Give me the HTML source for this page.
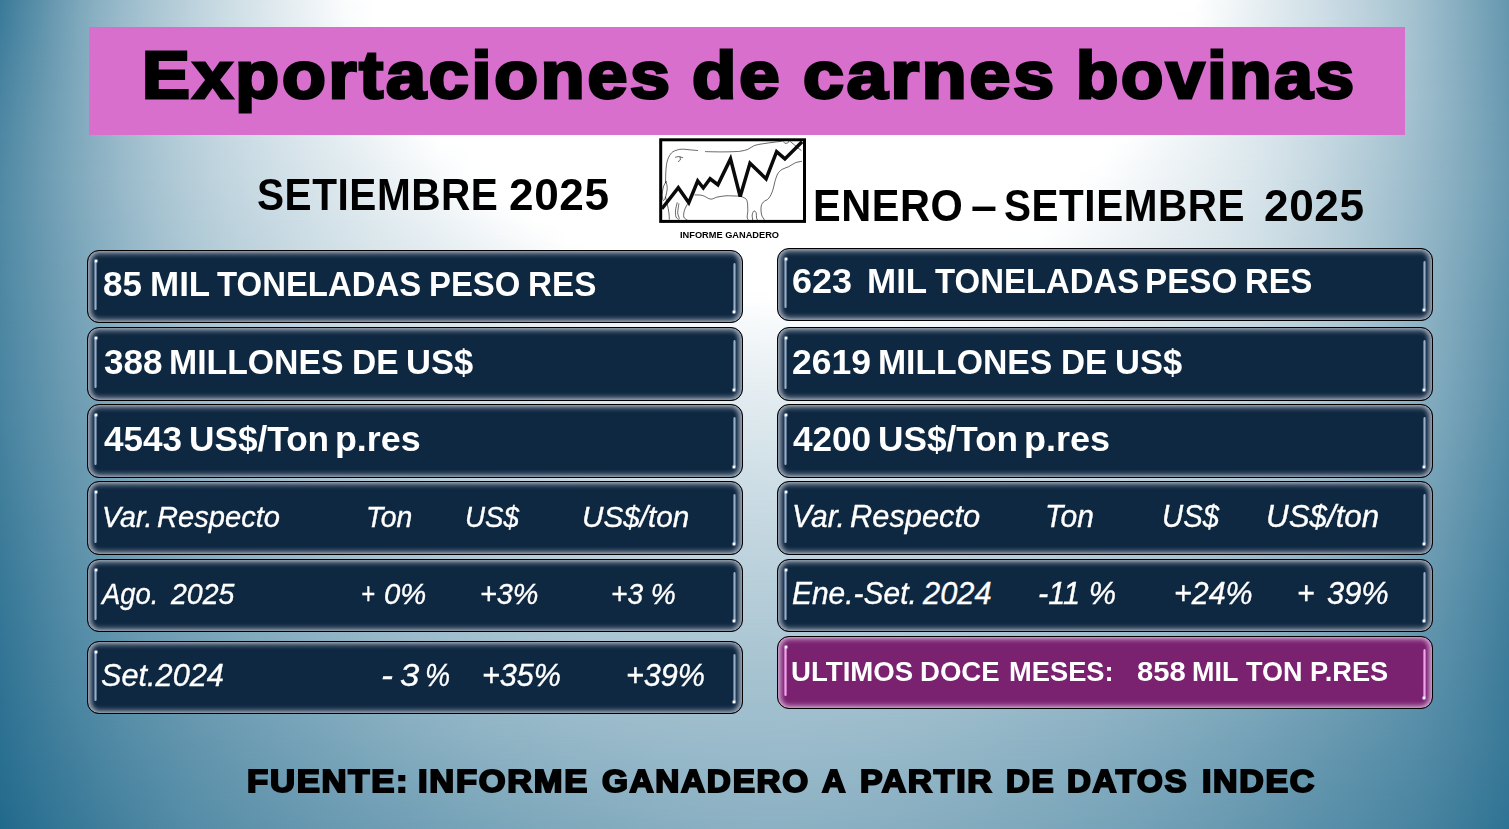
<!DOCTYPE html>
<html lang="es">
<head>
<meta charset="utf-8">
<title>Exportaciones de carnes bovinas</title>
<style>
html,body{margin:0;padding:0;}
body{
  width:1509px;height:829px;overflow:hidden;position:relative;
  font-family:"Liberation Sans",sans-serif;
  background:#7fa8bc;
}
#bg{position:absolute;left:0;top:0;width:1509px;height:829px;overflow:hidden;}
#bg i{display:block;width:1509px;height:20px;}
#bg b{display:block;width:100%;height:100%;-webkit-mask-image:linear-gradient(to bottom,rgba(0,0,0,0),#000);mask-image:linear-gradient(to bottom,rgba(0,0,0,0),#000);}
.abs{position:absolute;white-space:pre;line-height:1;}
#titlebar{position:absolute;left:89px;top:27px;width:1316px;height:108px;background:#d86fcd;}
.ttl{font-weight:bold;font-size:71px;color:#000;
  -webkit-text-stroke:3px #000;letter-spacing:2.6px;transform-origin:0 0;transform:scaleX(1.2);}
.sub{font-weight:bold;font-size:43px;color:#000;letter-spacing:0.6px;transform-origin:0 0;}
#logocap{left:681px;top:230px;font-size:8px;font-weight:bold;color:#000;transform-origin:0 0;}
.box{position:absolute;box-sizing:border-box;width:655.8px;border:1.05px solid #000;border-radius:12px;
  background:#0f2841;box-shadow:inset 0 0 1.2px 1.3px rgba(150,158,170,.55),inset 0 0 5px 2.6px rgb(150,160,176),inset 6px 0 4px -3px rgba(120,142,170,.55),inset -6px 0 4px -3px rgba(120,142,170,.55);}
.box.l{left:87.1px;}
.box.r{left:777.1px;}
.box.p{background:#7a2170;box-shadow:inset 0 0 1.2px 1.3px rgba(200,160,198,.55),inset 0 0 5px 2.6px rgb(196,150,194),inset 6px 0 4px -3px rgba(200,140,196,.5),inset -6px 0 4px -3px rgba(200,140,196,.5);}
.box i{position:absolute;width:3px;border-radius:1.5px;
  background:linear-gradient(90deg,rgba(159,180,208,.35),rgba(163,184,212,.92) 50%,rgba(159,180,208,.35));}
.box i.hl{left:6.1px;top:9.6px;bottom:11.5px;}
.box i.hr{right:6.1px;top:12px;bottom:9.6px;}
.box i::before{content:"";position:absolute;left:-1.5px;width:6px;height:6px;border-radius:50%;
  background:radial-gradient(circle,#fff 0,#fff 18%,rgba(225,238,255,.5) 36%,rgba(225,238,255,0) 62%);}
.box i.hl::before{top:-2.4px;}
.box i.hr::before{bottom:-2.4px;}
.box.p i{background:linear-gradient(90deg,rgba(240,160,236,.45),rgba(240,163,236,1) 50%,rgba(240,160,236,.45));}
.b{font-weight:bold;font-size:33px;color:#fff;transform-origin:0 0;}
.it{font-style:italic;font-size:29px;color:#fff;-webkit-text-stroke:0.35px #fff;transform-origin:0 0;}
.ft{font-weight:bold;font-size:35px;color:#000;-webkit-text-stroke:2px #000;
  letter-spacing:1.6px;transform-origin:0 0;}
</style>
</head>
<body>
<!--BG-->
<div id="bg">
<i style="background:linear-gradient(90deg,#3a7a98,#558ca6,#709eb5,#88afc1,#9bbccb,#acc7d4,#bbd1dc,#c9dbe3,#d6e4ea,#e3ecf0,#eff4f7,#fbfcfd,#fff,#fff,#fff,#fff,#fff,#fff,#fff,#fff,#fff,#fff,#fff,#fff,#fff,#fff,#fff,#fff,#fff,#fff,#fff,#fff,#fff,#fff,#fff,#fff,#fff,#fff,#fff,#f4f8f9,#e8eff3,#dbe7ec,#cfdee6,#c1d5df,#b3ccd8,#a3c1cf,#90b4c5,#7aa6ba,#6597af)"><b style="background:linear-gradient(90deg,#3c7c9a,#578ea8,#72a0b6,#8ab0c2,#9cbccc,#acc7d4,#bbd1dc,#c9dbe3,#d6e3ea,#e2ebf0,#edf3f6,#f9fbfc,#fff,#fff,#fff,#fff,#fff,#fff,#fff,#fff,#fff,#fff,#fff,#fff,#fff,#fff,#fff,#fff,#fff,#fff,#fff,#fff,#fff,#fff,#fff,#fff,#fff,#fff,#fefefe,#f2f6f8,#e6eef2,#dae6ec,#cedee6,#c1d5df,#b3ccd8,#a3c1cf,#90b4c5,#7ba6ba,#6597af)"></b></i>
<i style="background:linear-gradient(90deg,#3c7c9a,#578ea8,#72a0b6,#8ab0c2,#9cbccc,#acc7d4,#bbd1dc,#c9dbe3,#d6e3ea,#e2ebf0,#edf3f6,#f9fbfc,#fff,#fff,#fff,#fff,#fff,#fff,#fff,#fff,#fff,#fff,#fff,#fff,#fff,#fff,#fff,#fff,#fff,#fff,#fff,#fff,#fff,#fff,#fff,#fff,#fff,#fff,#fefefe,#f2f6f8,#e6eef2,#dae6ec,#cedee6,#c1d5df,#b3ccd8,#a3c1cf,#90b4c5,#7ba6ba,#6597af)"><b style="background:linear-gradient(90deg,#407e9c,#598fa9,#73a1b6,#8ab0c2,#9dbdcc,#adc8d4,#bbd1dc,#c9dae3,#d5e2e9,#e0eaef,#ebf2f5,#f6f9fa,#fff,#fff,#fff,#fff,#fff,#fff,#fff,#fff,#fff,#fff,#fff,#fff,#fff,#fff,#fff,#fff,#fff,#fff,#fff,#fff,#fff,#fff,#fff,#fff,#fff,#fff,#fbfdfd,#f0f5f7,#e5edf1,#d9e6eb,#cddde5,#c1d5df,#b3ccd7,#a3c1cf,#90b4c5,#7ba6ba,#6698af)"></b></i>
<i style="background:linear-gradient(90deg,#407e9c,#598fa9,#73a1b6,#8ab0c2,#9dbdcc,#adc8d4,#bbd1dc,#c9dae3,#d5e2e9,#e0eaef,#ebf2f5,#f6f9fa,#fff,#fff,#fff,#fff,#fff,#fff,#fff,#fff,#fff,#fff,#fff,#fff,#fff,#fff,#fff,#fff,#fff,#fff,#fff,#fff,#fff,#fff,#fff,#fff,#fff,#fff,#fbfdfd,#f0f5f7,#e5edf1,#d9e6eb,#cddde5,#c1d5df,#b3ccd7,#a3c1cf,#90b4c5,#7ba6ba,#6698af)"><b style="background:linear-gradient(90deg,#44809e,#5c91aa,#74a1b7,#8ab0c2,#9dbdcc,#adc8d4,#bbd1dc,#c8dae2,#d3e2e8,#dee9ee,#e9f0f4,#f4f7f9,#fefeff,#fff,#fff,#fff,#fff,#fff,#fff,#fff,#fff,#fff,#fff,#fff,#fff,#fff,#fff,#fff,#fff,#fff,#fff,#fff,#fff,#fff,#fff,#fff,#fff,#fff,#f9fbfc,#eef4f6,#e3ecf1,#d8e5eb,#ccdde5,#c0d4de,#b2cbd7,#a3c1cf,#90b4c5,#7ba6bb,#6698b0)"></b></i>
<i style="background:linear-gradient(90deg,#44809e,#5c91aa,#74a1b7,#8ab0c2,#9dbdcc,#adc8d4,#bbd1dc,#c8dae2,#d3e2e8,#dee9ee,#e9f0f4,#f4f7f9,#fefeff,#fff,#fff,#fff,#fff,#fff,#fff,#fff,#fff,#fff,#fff,#fff,#fff,#fff,#fff,#fff,#fff,#fff,#fff,#fff,#fff,#fff,#fff,#fff,#fff,#fff,#f9fbfc,#eef4f6,#e3ecf1,#d8e5eb,#ccdde5,#c0d4de,#b2cbd7,#a3c1cf,#90b4c5,#7ba6bb,#6698b0)"><b style="background:linear-gradient(90deg,#47839f,#5e92ab,#75a2b7,#8bb0c2,#9dbdcc,#adc7d4,#bad1db,#c7d9e2,#d2e1e8,#dce8ed,#e7eef2,#f1f5f7,#fbfcfd,#fff,#fff,#fff,#fff,#fff,#fff,#fff,#fff,#fff,#fff,#fff,#fff,#fff,#fff,#fff,#fff,#fff,#fff,#fff,#fff,#fff,#fff,#fff,#fff,#fff,#f6f9fa,#ecf2f5,#e2ebf0,#d7e4ea,#cbdce4,#bfd4de,#b2cbd7,#a2c0cf,#90b4c5,#7ca6bb,#6798b0)"></b></i>
<i style="background:linear-gradient(90deg,#47839f,#5e92ab,#75a2b7,#8bb0c2,#9dbdcc,#adc7d4,#bad1db,#c7d9e2,#d2e1e8,#dce8ed,#e7eef2,#f1f5f7,#fbfcfd,#fff,#fff,#fff,#fff,#fff,#fff,#fff,#fff,#fff,#fff,#fff,#fff,#fff,#fff,#fff,#fff,#fff,#fff,#fff,#fff,#fff,#fff,#fff,#fff,#fff,#f6f9fa,#ecf2f5,#e2ebf0,#d7e4ea,#cbdce4,#bfd4de,#b2cbd7,#a2c0cf,#90b4c5,#7ca6bb,#6798b0)"><b style="background:linear-gradient(90deg,#4984a1,#6094ac,#76a3b8,#8bb0c2,#9dbdcc,#acc7d4,#bad0db,#c6d8e1,#d0dfe7,#dae6ec,#e4edf1,#edf3f6,#f7fafb,#fff,#fff,#fff,#fff,#fff,#fff,#fff,#fff,#fff,#fff,#fff,#fff,#fff,#fff,#fff,#fff,#fff,#fff,#fff,#fff,#fff,#fff,#fff,#fff,#fcfdfd,#f3f7f9,#e9f0f4,#e0eaef,#d5e3e9,#cadbe3,#bed3dd,#b0cad6,#a2c0ce,#90b4c5,#7ca6bb,#6799b0)"></b></i>
<i style="background:linear-gradient(90deg,#4984a1,#6094ac,#76a3b8,#8bb0c2,#9dbdcc,#acc7d4,#bad0db,#c6d8e1,#d0dfe7,#dae6ec,#e4edf1,#edf3f6,#f7fafb,#fff,#fff,#fff,#fff,#fff,#fff,#fff,#fff,#fff,#fff,#fff,#fff,#fff,#fff,#fff,#fff,#fff,#fff,#fff,#fff,#fff,#fff,#fff,#fff,#fcfdfd,#f3f7f9,#e9f0f4,#e0eaef,#d5e3e9,#cadbe3,#bed3dd,#b0cad6,#a2c0ce,#90b4c5,#7ca6bb,#6799b0)"><b style="background:linear-gradient(90deg,#4c86a2,#6295ad,#77a3b8,#8bb0c3,#9cbccc,#abc7d4,#b9d0da,#c4d7e0,#cedee6,#d8e4eb,#e1ebef,#eaf1f4,#f3f7f9,#fcfdfe,#fff,#fff,#fff,#fff,#fff,#fff,#fff,#fff,#fff,#fff,#fff,#fff,#fff,#fff,#fff,#fff,#fff,#fff,#fff,#fff,#fff,#fff,#fff,#f8fafb,#f0f5f7,#e7eff3,#dee9ee,#d4e2e8,#c8dae3,#bcd2dc,#afc9d5,#a0bfce,#8fb4c5,#7ca7bb,#6899b0)"></b></i>
<i style="background:linear-gradient(90deg,#4c86a2,#6295ad,#77a3b8,#8bb0c3,#9cbccc,#abc7d4,#b9d0da,#c4d7e0,#cedee6,#d8e4eb,#e1ebef,#eaf1f4,#f3f7f9,#fcfdfe,#fff,#fff,#fff,#fff,#fff,#fff,#fff,#fff,#fff,#fff,#fff,#fff,#fff,#fff,#fff,#fff,#fff,#fff,#fff,#fff,#fff,#fff,#fff,#f8fafb,#f0f5f7,#e7eff3,#dee9ee,#d4e2e8,#c8dae3,#bcd2dc,#afc9d5,#a0bfce,#8fb4c5,#7ca7bb,#6899b0)"><b style="background:linear-gradient(90deg,#4d87a3,#6396ae,#77a4b9,#8bb0c2,#9cbccb,#abc6d3,#b7cfda,#c3d6e0,#ccdde5,#d5e3e9,#dee8ee,#e6eef2,#eff4f6,#f7fafb,#fff,#fff,#fff,#fff,#fff,#fff,#fff,#fff,#fff,#fff,#fff,#fff,#fff,#fff,#fff,#fff,#fff,#fff,#fff,#fff,#fff,#fff,#fdfdfe,#f4f8f9,#edf3f5,#e5edf1,#dce7ed,#d2e0e7,#c6d9e2,#bad1db,#adc8d5,#9fbecd,#8eb3c4,#7ca6bb,#6899b1)"></b></i>
<i style="background:linear-gradient(90deg,#4d87a3,#6396ae,#77a4b9,#8bb0c2,#9cbccb,#abc6d3,#b7cfda,#c3d6e0,#ccdde5,#d5e3e9,#dee8ee,#e6eef2,#eff4f6,#f7fafb,#fff,#fff,#fff,#fff,#fff,#fff,#fff,#fff,#fff,#fff,#fff,#fff,#fff,#fff,#fff,#fff,#fff,#fff,#fff,#fff,#fff,#fff,#fdfdfe,#f4f8f9,#edf3f5,#e5edf1,#dce7ed,#d2e0e7,#c6d9e2,#bad1db,#adc8d5,#9fbecd,#8eb3c4,#7ca6bb,#6899b1)"><b style="background:linear-gradient(90deg,#4f88a3,#6496ae,#78a4b9,#8ab0c2,#9bbbcb,#a9c5d3,#b6ced9,#c1d5df,#cadbe4,#d3e1e8,#dbe6ec,#e2ecf0,#ebf1f4,#f3f7f9,#fbfcfd,#fff,#fff,#fff,#fff,#fff,#fff,#fff,#fff,#fff,#fff,#fff,#fff,#fff,#fff,#fff,#fff,#fff,#fff,#fff,#fff,#fff,#f8fbfc,#f1f5f8,#eaf1f4,#e2ecf0,#dae6ec,#d0dfe6,#c5d8e1,#b8cfda,#acc7d4,#9dbdcc,#8db2c4,#7ba6bb,#6999b1)"></b></i>
<i style="background:linear-gradient(90deg,#4f88a3,#6496ae,#78a4b9,#8ab0c2,#9bbbcb,#a9c5d3,#b6ced9,#c1d5df,#cadbe4,#d3e1e8,#dbe6ec,#e2ecf0,#ebf1f4,#f3f7f9,#fbfcfd,#fff,#fff,#fff,#fff,#fff,#fff,#fff,#fff,#fff,#fff,#fff,#fff,#fff,#fff,#fff,#fff,#fff,#fff,#fff,#fff,#fff,#f8fbfc,#f1f5f8,#eaf1f4,#e2ecf0,#dae6ec,#d0dfe6,#c5d8e1,#b8cfda,#acc7d4,#9dbdcc,#8db2c4,#7ba6bb,#6999b1)"><b style="background:linear-gradient(90deg,#5089a4,#6496ae,#78a4b9,#8ab0c2,#9abbca,#a8c4d2,#b5cdd8,#bfd4de,#c8dae2,#d0dfe7,#d8e4ea,#dfe9ee,#e7eff2,#eef4f6,#f6f9fa,#feffff,#fff,#fff,#fff,#fff,#fff,#fff,#fff,#fff,#fff,#fff,#fff,#fff,#fff,#fff,#fff,#fff,#fff,#fff,#fff,#fdfdfe,#f5f8fa,#eef3f6,#e7eff2,#e0eaef,#d8e5eb,#cedee5,#c3d6e0,#b6ced9,#aac5d3,#9cbccb,#8cb2c3,#7ba6ba,#6899b1)"></b></i>
<i style="background:linear-gradient(90deg,#5089a4,#6496ae,#78a4b9,#8ab0c2,#9abbca,#a8c4d2,#b5cdd8,#bfd4de,#c8dae2,#d0dfe7,#d8e4ea,#dfe9ee,#e7eff2,#eef4f6,#f6f9fa,#feffff,#fff,#fff,#fff,#fff,#fff,#fff,#fff,#fff,#fff,#fff,#fff,#fff,#fff,#fff,#fff,#fff,#fff,#fff,#fff,#fdfdfe,#f5f8fa,#eef3f6,#e7eff2,#e0eaef,#d8e5eb,#cedee5,#c3d6e0,#b6ced9,#aac5d3,#9cbccb,#8cb2c3,#7ba6ba,#6899b1)"><b style="background:linear-gradient(90deg,#5089a4,#6496ae,#77a3b8,#89afc1,#98baca,#a6c3d1,#b3cbd7,#bdd2dd,#c6d8e1,#cddde5,#d4e2e9,#dce7ed,#e3ecf0,#eaf1f4,#f1f6f8,#f8fbfc,#fff,#fff,#fff,#fff,#fff,#fff,#fff,#fff,#fff,#fff,#fff,#fff,#fff,#fff,#fff,#fff,#fff,#fff,#fff,#f9fbfc,#f1f6f8,#ebf1f4,#e4edf1,#dee9ee,#d6e3ea,#ccdce4,#c1d5df,#b5cdd8,#a8c4d2,#9abbcb,#8bb1c3,#7aa5ba,#6798b0)"></b></i>
<i style="background:linear-gradient(90deg,#5089a4,#6496ae,#77a3b8,#89afc1,#98baca,#a6c3d1,#b3cbd7,#bdd2dd,#c6d8e1,#cddde5,#d4e2e9,#dce7ed,#e3ecf0,#eaf1f4,#f1f6f8,#f8fbfc,#fff,#fff,#fff,#fff,#fff,#fff,#fff,#fff,#fff,#fff,#fff,#fff,#fff,#fff,#fff,#fff,#fff,#fff,#fff,#f9fbfc,#f1f6f8,#ebf1f4,#e4edf1,#dee9ee,#d6e3ea,#ccdce4,#c1d5df,#b5cdd8,#a8c4d2,#9abbcb,#8bb1c3,#7aa5ba,#6798b0)"><b style="background:linear-gradient(90deg,#5089a4,#6396ae,#76a2b8,#87aec1,#96b8c9,#a4c2d0,#b0cad6,#bad1db,#c3d6e0,#cadbe4,#d1e0e7,#d8e5eb,#dfe9ee,#e6eef2,#ecf2f5,#f3f7f9,#fafbfc,#fff,#fff,#fff,#fff,#fff,#fff,#fff,#fff,#fff,#fff,#fff,#fff,#fff,#fff,#fff,#fff,#fff,#fcfdfe,#f5f8fa,#eef3f6,#e8eff3,#e1ebf0,#dbe7ec,#d3e1e8,#cadbe3,#bfd4de,#b3ccd8,#a7c3d1,#99baca,#8ab0c2,#78a4b9,#6698af)"></b></i>
<i style="background:linear-gradient(90deg,#5089a4,#6396ae,#76a2b8,#87aec1,#96b8c9,#a4c2d0,#b0cad6,#bad1db,#c3d6e0,#cadbe4,#d1e0e7,#d8e5eb,#dfe9ee,#e6eef2,#ecf2f5,#f3f7f9,#fafbfc,#fff,#fff,#fff,#fff,#fff,#fff,#fff,#fff,#fff,#fff,#fff,#fff,#fff,#fff,#fff,#fff,#fff,#fcfdfe,#f5f8fa,#eef3f6,#e8eff3,#e1ebf0,#dbe7ec,#d3e1e8,#cadbe3,#bfd4de,#b3ccd8,#a7c3d1,#99baca,#8ab0c2,#78a4b9,#6698af)"><b style="background:linear-gradient(90deg,#4f89a4,#6295ae,#74a1b7,#85adc0,#94b7c8,#a2c0cf,#aec8d5,#b7cfda,#c0d4de,#c7d9e2,#cedee6,#d5e3e9,#dbe7ec,#e1ebf0,#e7eff3,#edf3f6,#f4f7f9,#fafbfc,#fff,#fff,#fff,#fff,#fff,#fff,#fff,#fff,#fff,#fff,#fff,#fff,#fff,#fff,#fff,#feffff,#f8fafb,#f1f6f8,#ebf1f4,#e5edf1,#dfe9ee,#d8e5eb,#d1e0e7,#c7d9e2,#bdd2dd,#b2cbd7,#a5c2d0,#97b9c9,#88afc1,#77a3b8,#6497af)"></b></i>
<i style="background:linear-gradient(90deg,#4f89a4,#6295ae,#74a1b7,#85adc0,#94b7c8,#a2c0cf,#aec8d5,#b7cfda,#c0d4de,#c7d9e2,#cedee6,#d5e3e9,#dbe7ec,#e1ebf0,#e7eff3,#edf3f6,#f4f7f9,#fafbfc,#fff,#fff,#fff,#fff,#fff,#fff,#fff,#fff,#fff,#fff,#fff,#fff,#fff,#fff,#fff,#feffff,#f8fafb,#f1f6f8,#ebf1f4,#e5edf1,#dfe9ee,#d8e5eb,#d1e0e7,#c7d9e2,#bdd2dd,#b2cbd7,#a5c2d0,#97b9c9,#88afc1,#77a3b8,#6497af)"><b style="background:linear-gradient(90deg,#4f88a3,#6194ad,#73a0b6,#83abbf,#92b6c6,#9fbecd,#abc6d3,#b5cdd8,#bdd2dd,#c4d7e0,#cbdce4,#d1e0e7,#d8e4ea,#dde8ed,#e3ecf0,#e8f0f3,#eef3f6,#f3f7f9,#f9fbfc,#fff,#fff,#fff,#fff,#fff,#fff,#fff,#fff,#fff,#fff,#fff,#fff,#fff,#fff,#f9fbfc,#f3f7f9,#edf3f6,#e7eff3,#e2ebf0,#dce7ed,#d5e3e9,#cedee5,#c5d8e1,#bbd1dc,#b0cad6,#a4c1d0,#96b8c8,#86adc0,#75a2b7,#6396ae)"></b></i>
<i style="background:linear-gradient(90deg,#4f88a3,#6194ad,#73a0b6,#83abbf,#92b6c6,#9fbecd,#abc6d3,#b5cdd8,#bdd2dd,#c4d7e0,#cbdce4,#d1e0e7,#d8e4ea,#dde8ed,#e3ecf0,#e8f0f3,#eef3f6,#f3f7f9,#f9fbfc,#fff,#fff,#fff,#fff,#fff,#fff,#fff,#fff,#fff,#fff,#fff,#fff,#fff,#fff,#f9fbfc,#f3f7f9,#edf3f6,#e7eff3,#e2ebf0,#dce7ed,#d5e3e9,#cedee5,#c5d8e1,#bbd1dc,#b0cad6,#a4c1d0,#96b8c8,#86adc0,#75a2b7,#6396ae)"><b style="background:linear-gradient(90deg,#4e88a3,#6094ac,#719fb5,#81aabe,#90b4c5,#9dbdcc,#a8c4d2,#b2cbd7,#bad0db,#c1d5df,#c8dae2,#cedee6,#d4e2e9,#d9e6eb,#dee9ee,#e4ecf1,#e9f0f3,#eef3f6,#f3f7f9,#f8fafb,#fdfdfe,#fff,#fff,#fff,#fff,#fff,#fff,#fff,#fff,#fff,#fff,#fefefe,#f9fbfc,#f4f8f9,#eff4f7,#e9f0f4,#e4edf1,#dee9ee,#d9e5eb,#d2e1e8,#cbdce4,#c3d6e0,#b9d0db,#aec9d5,#a2c0cf,#94b7c8,#85acbf,#73a1b6,#6194ad)"></b></i>
<i style="background:linear-gradient(90deg,#4e88a3,#6094ac,#719fb5,#81aabe,#90b4c5,#9dbdcc,#a8c4d2,#b2cbd7,#bad0db,#c1d5df,#c8dae2,#cedee6,#d4e2e9,#d9e6eb,#dee9ee,#e4ecf1,#e9f0f3,#eef3f6,#f3f7f9,#f8fafb,#fdfdfe,#fff,#fff,#fff,#fff,#fff,#fff,#fff,#fff,#fff,#fff,#fefefe,#f9fbfc,#f4f8f9,#eff4f7,#e9f0f4,#e4edf1,#dee9ee,#d9e5eb,#d2e1e8,#cbdce4,#c3d6e0,#b9d0db,#aec9d5,#a2c0cf,#94b7c8,#85acbf,#73a1b6,#6194ad)"><b style="background:linear-gradient(90deg,#4d87a2,#5f93ac,#709eb4,#7fa9bd,#8eb2c4,#9abbcb,#a5c2d0,#afc9d5,#b7ceda,#bed3dd,#c5d8e1,#cbdce4,#d0dfe7,#d5e3e9,#dae6ec,#dfe9ee,#e4edf1,#e8f0f3,#edf3f6,#f2f6f8,#f6f9fa,#f9fbfc,#fcfdfd,#fdfefe,#fefefe,#fff,#fff,#fff,#fff,#fefefe,#fbfcfd,#f8fafb,#f4f7f9,#eff4f7,#eaf1f4,#e5eef2,#e0eaef,#dbe7ec,#d6e3e9,#cfdfe6,#c8dae3,#c0d5de,#b7ceda,#acc7d4,#a0bfce,#93b6c7,#83abbf,#719fb5,#5f93ac)"></b></i>
<i style="background:linear-gradient(90deg,#4d87a2,#5f93ac,#709eb4,#7fa9bd,#8eb2c4,#9abbcb,#a5c2d0,#afc9d5,#b7ceda,#bed3dd,#c5d8e1,#cbdce4,#d0dfe7,#d5e3e9,#dae6ec,#dfe9ee,#e4edf1,#e8f0f3,#edf3f6,#f2f6f8,#f6f9fa,#f9fbfc,#fcfdfd,#fdfefe,#fefefe,#fff,#fff,#fff,#fff,#fefefe,#fbfcfd,#f8fafb,#f4f7f9,#eff4f7,#eaf1f4,#e5eef2,#e0eaef,#dbe7ec,#d6e3e9,#cfdfe6,#c8dae3,#c0d5de,#b7ceda,#acc7d4,#a0bfce,#93b6c7,#83abbf,#719fb5,#5f93ac)"><b style="background:linear-gradient(90deg,#4c86a2,#5d92ab,#6e9db4,#7da8bc,#8bb1c3,#98b9c9,#a3c1cf,#acc7d4,#b4ccd8,#bbd1dc,#c2d6df,#c7d9e2,#cddde5,#d2e0e7,#d6e3ea,#dbe6ec,#dfe9ee,#e3ecf1,#e8eff3,#ecf2f5,#f0f5f7,#f3f7f9,#f5f8fa,#f6f9fb,#f7fafb,#f8fbfc,#f9fbfc,#f9fbfc,#f9fbfc,#f7fafb,#f5f8fa,#f2f6f8,#eff4f6,#ebf1f4,#e6eef2,#e1ebf0,#dde8ed,#d8e5eb,#d2e1e8,#ccdde5,#c6d8e1,#bed3dd,#b5cdd8,#abc6d3,#9fbecd,#91b5c6,#81aabe,#709eb5,#5e92ab)"></b></i>
<i style="background:linear-gradient(90deg,#4c86a2,#5d92ab,#6e9db4,#7da8bc,#8bb1c3,#98b9c9,#a3c1cf,#acc7d4,#b4ccd8,#bbd1dc,#c2d6df,#c7d9e2,#cddde5,#d2e0e7,#d6e3ea,#dbe6ec,#dfe9ee,#e3ecf1,#e8eff3,#ecf2f5,#f0f5f7,#f3f7f9,#f5f8fa,#f6f9fb,#f7fafb,#f8fbfc,#f9fbfc,#f9fbfc,#f9fbfc,#f7fafb,#f5f8fa,#f2f6f8,#eff4f6,#ebf1f4,#e6eef2,#e1ebf0,#dde8ed,#d8e5eb,#d2e1e8,#ccdde5,#c6d8e1,#bed3dd,#b5cdd8,#abc6d3,#9fbecd,#91b5c6,#81aabe,#709eb5,#5e92ab)"><b style="background:linear-gradient(90deg,#4b86a2,#5c91aa,#6c9cb3,#7ca6bb,#89afc2,#95b8c8,#a0bfce,#a9c5d2,#b1cad7,#b8cfda,#bed3dd,#c4d7e0,#c9dbe3,#cedee5,#d2e1e8,#d7e4ea,#dbe6ec,#dfe9ee,#e3ecf0,#e6eef2,#eaf1f4,#edf3f5,#eff4f7,#f0f5f7,#f2f6f8,#f2f7f8,#f3f7f9,#f3f7f9,#f3f7f9,#f1f6f8,#eff4f7,#edf3f6,#eaf1f4,#e6eef2,#e2ebf0,#dee8ee,#d9e5eb,#d4e2e9,#cfdfe6,#c9dbe3,#c3d6e0,#bbd1dc,#b3cbd7,#a8c5d2,#9dbdcc,#8fb4c5,#80a9bd,#6e9db4,#5c91aa)"></b></i>
<i style="background:linear-gradient(90deg,#4b86a2,#5c91aa,#6c9cb3,#7ca6bb,#89afc2,#95b8c8,#a0bfce,#a9c5d2,#b1cad7,#b8cfda,#bed3dd,#c4d7e0,#c9dbe3,#cedee5,#d2e1e8,#d7e4ea,#dbe6ec,#dfe9ee,#e3ecf0,#e6eef2,#eaf1f4,#edf3f5,#eff4f7,#f0f5f7,#f2f6f8,#f2f7f8,#f3f7f9,#f3f7f9,#f3f7f9,#f1f6f8,#eff4f7,#edf3f6,#eaf1f4,#e6eef2,#e2ebf0,#dee8ee,#d9e5eb,#d4e2e9,#cfdfe6,#c9dbe3,#c3d6e0,#bbd1dc,#b3cbd7,#a8c5d2,#9dbdcc,#8fb4c5,#80a9bd,#6e9db4,#5c91aa)"><b style="background:linear-gradient(90deg,#4a85a1,#5b90aa,#6b9bb2,#7aa5ba,#87aec1,#93b6c7,#9dbdcc,#a6c3d1,#aec8d5,#b5cdd9,#bbd1dc,#c1d5df,#c6d8e1,#cadbe4,#cfdee6,#d3e1e8,#d6e4ea,#dae6ec,#dee9ee,#e1ebf0,#e4edf1,#e7eff3,#e9f0f4,#ebf1f4,#ecf2f5,#edf3f6,#edf3f6,#edf3f6,#edf3f6,#ecf2f5,#eaf1f4,#e8eff3,#e5edf1,#e1ebf0,#dee8ee,#dae6ec,#d5e3e9,#d1e0e7,#ccdce4,#c6d9e1,#c0d4de,#b9cfda,#b0cad6,#a6c3d1,#9bbbcb,#8eb2c4,#7ea8bc,#6d9cb3,#5b90aa)"></b></i>
<i style="background:linear-gradient(90deg,#4a85a1,#5b90aa,#6b9bb2,#7aa5ba,#87aec1,#93b6c7,#9dbdcc,#a6c3d1,#aec8d5,#b5cdd9,#bbd1dc,#c1d5df,#c6d8e1,#cadbe4,#cfdee6,#d3e1e8,#d6e4ea,#dae6ec,#dee9ee,#e1ebf0,#e4edf1,#e7eff3,#e9f0f4,#ebf1f4,#ecf2f5,#edf3f6,#edf3f6,#edf3f6,#edf3f6,#ecf2f5,#eaf1f4,#e8eff3,#e5edf1,#e1ebf0,#dee8ee,#dae6ec,#d5e3e9,#d1e0e7,#ccdce4,#c6d9e1,#c0d4de,#b9cfda,#b0cad6,#a6c3d1,#9bbbcb,#8eb2c4,#7ea8bc,#6d9cb3,#5b90aa)"><b style="background:linear-gradient(90deg,#4984a1,#5a8fa9,#699ab1,#78a4b9,#85adbf,#90b4c5,#9bbbcb,#a3c1cf,#abc6d3,#b2cbd7,#b8cfda,#bdd3dd,#c2d6df,#c7d9e2,#cbdce4,#cfdee6,#d2e1e8,#d6e3ea,#d9e6eb,#dce8ed,#dfeaef,#e2ebf0,#e4edf1,#e6eef2,#e7eff2,#e8eff3,#e8eff3,#e8eff3,#e7eff3,#e6eef2,#e5edf1,#e2ecf0,#e0eaef,#dde8ed,#d9e6eb,#d6e3e9,#d2e0e7,#cddde5,#c8dae3,#c3d6e0,#bdd2dd,#b6cdd9,#adc8d5,#a4c1d0,#99baca,#8cb1c3,#7ca7bb,#6b9bb2,#598fa9)"></b></i>
<i style="background:linear-gradient(90deg,#4984a1,#5a8fa9,#699ab1,#78a4b9,#85adbf,#90b4c5,#9bbbcb,#a3c1cf,#abc6d3,#b2cbd7,#b8cfda,#bdd3dd,#c2d6df,#c7d9e2,#cbdce4,#cfdee6,#d2e1e8,#d6e3ea,#d9e6eb,#dce8ed,#dfeaef,#e2ebf0,#e4edf1,#e6eef2,#e7eff2,#e8eff3,#e8eff3,#e8eff3,#e7eff3,#e6eef2,#e5edf1,#e2ecf0,#e0eaef,#dde8ed,#d9e6eb,#d6e3e9,#d2e0e7,#cddde5,#c8dae3,#c3d6e0,#bdd2dd,#b6cdd9,#adc8d5,#a4c1d0,#99baca,#8cb1c3,#7ca7bb,#6b9bb2,#598fa9)"><b style="background:linear-gradient(90deg,#4883a0,#588ea8,#6899b0,#76a2b8,#83abbe,#8eb3c4,#98b9c9,#a1bfce,#a8c4d2,#afc9d5,#b5cdd8,#bad1db,#bfd4de,#c3d7e0,#c7d9e2,#cbdce4,#cfdee6,#d2e1e8,#d5e3e9,#d8e5eb,#dbe6ec,#dde8ed,#dfe9ee,#e1eaef,#e2ebf0,#e3ecf0,#e3ecf0,#e3ecf0,#e2ebf0,#e1ebef,#dfeaef,#dde8ee,#dbe7ec,#d8e5eb,#d5e3e9,#d2e0e7,#cedee5,#cadbe3,#c5d8e1,#c0d4de,#bad0db,#b3cbd7,#aac6d3,#a1c0ce,#96b8c9,#89b0c2,#7aa5ba,#699ab1,#578ea8)"></b></i>
<i style="background:linear-gradient(90deg,#4883a0,#588ea8,#6899b0,#76a2b8,#83abbe,#8eb3c4,#98b9c9,#a1bfce,#a8c4d2,#afc9d5,#b5cdd8,#bad1db,#bfd4de,#c3d7e0,#c7d9e2,#cbdce4,#cfdee6,#d2e1e8,#d5e3e9,#d8e5eb,#dbe6ec,#dde8ed,#dfe9ee,#e1eaef,#e2ebf0,#e3ecf0,#e3ecf0,#e3ecf0,#e2ebf0,#e1ebef,#dfeaef,#dde8ee,#dbe7ec,#d8e5eb,#d5e3e9,#d2e0e7,#cedee5,#cadbe3,#c5d8e1,#c0d4de,#bad0db,#b3cbd7,#aac6d3,#a1c0ce,#96b8c9,#89b0c2,#7aa5ba,#699ab1,#578ea8)"><b style="background:linear-gradient(90deg,#47839f,#568da7,#6697af,#74a1b7,#80a9bd,#8bb1c3,#95b8c8,#9ebdcc,#a5c2d0,#acc7d4,#b2cbd7,#b7ceda,#bcd2dc,#c0d4de,#c4d7e0,#c7d9e2,#cbdce4,#cedee5,#d1e0e7,#d4e2e8,#d6e3ea,#d8e5eb,#dae6ec,#dce7ed,#dde8ed,#dee8ee,#dee9ee,#dee8ee,#dde8ed,#dce7ed,#dbe6ec,#d9e5eb,#d6e4ea,#d4e2e9,#d1e0e7,#cddee5,#cadbe3,#c6d8e1,#c1d5df,#bcd2dc,#b6ced9,#afc9d6,#a7c4d1,#9ebecd,#93b6c7,#87aec0,#78a4b9,#6798b0,#558ca7)"></b></i>
<i style="background:linear-gradient(90deg,#47839f,#568da7,#6697af,#74a1b7,#80a9bd,#8bb1c3,#95b8c8,#9ebdcc,#a5c2d0,#acc7d4,#b2cbd7,#b7ceda,#bcd2dc,#c0d4de,#c4d7e0,#c7d9e2,#cbdce4,#cedee5,#d1e0e7,#d4e2e8,#d6e3ea,#d8e5eb,#dae6ec,#dce7ed,#dde8ed,#dee8ee,#dee9ee,#dee8ee,#dde8ed,#dce7ed,#dbe6ec,#d9e5eb,#d6e4ea,#d4e2e9,#d1e0e7,#cddee5,#cadbe3,#c6d8e1,#c1d5df,#bcd2dc,#b6ced9,#afc9d6,#a7c4d1,#9ebecd,#93b6c7,#87aec0,#78a4b9,#6798b0,#558ca7)"><b style="background:linear-gradient(90deg,#45819e,#558ca6,#6496ae,#719fb5,#7ea8bc,#89afc2,#92b6c7,#9bbbcb,#a2c0cf,#a9c5d2,#afc9d5,#b4ccd8,#b8cfda,#bcd2dc,#c0d5de,#c4d7e0,#c7d9e2,#cadbe3,#cddde5,#cfdfe6,#d2e0e7,#d4e2e9,#d6e3e9,#d7e4ea,#d8e5eb,#d9e5eb,#d9e5eb,#d9e5eb,#d8e5eb,#d7e4ea,#d6e3ea,#d4e2e9,#d2e1e8,#cfdfe6,#ccdde5,#c9dbe3,#c6d8e1,#c2d6df,#bdd3dd,#b8cfda,#b3cbd7,#acc7d4,#a4c2d0,#9bbccb,#90b4c6,#84acbf,#75a2b7,#6497af,#538ba6)"></b></i>
<i style="background:linear-gradient(90deg,#45819e,#558ca6,#6496ae,#719fb5,#7ea8bc,#89afc2,#92b6c7,#9bbbcb,#a2c0cf,#a9c5d2,#afc9d5,#b4ccd8,#b8cfda,#bcd2dc,#c0d5de,#c4d7e0,#c7d9e2,#cadbe3,#cddde5,#cfdfe6,#d2e0e7,#d4e2e9,#d6e3e9,#d7e4ea,#d8e5eb,#d9e5eb,#d9e5eb,#d9e5eb,#d8e5eb,#d7e4ea,#d6e3ea,#d4e2e9,#d2e1e8,#cfdfe6,#ccdde5,#c9dbe3,#c6d8e1,#c2d6df,#bdd3dd,#b8cfda,#b3cbd7,#acc7d4,#a4c2d0,#9bbccb,#90b4c6,#84acbf,#75a2b7,#6497af,#538ba6)"><b style="background:linear-gradient(90deg,#43809d,#538ba5,#6195ad,#6f9eb4,#7ba6bb,#86adc0,#90b4c5,#98b9c9,#9fbecd,#a6c3d1,#abc7d3,#b0cad6,#b5cdd8,#b9d0db,#bdd2dd,#c0d5de,#c3d7e0,#c6d9e2,#c9dbe3,#cbdce4,#cedee5,#d0dfe6,#d1e0e7,#d2e1e8,#d3e2e8,#d4e2e9,#d4e2e9,#d4e2e9,#d3e1e8,#d2e1e8,#d1e0e7,#cfdfe6,#cddde5,#cbdce4,#c8dae2,#c5d8e1,#c2d6df,#bed3dd,#bad0db,#b5cdd8,#afc9d5,#a8c5d2,#a1bfce,#98b9c9,#8db2c4,#81aabd,#72a0b6,#6295ad,#518aa5)"></b></i>
<i style="background:linear-gradient(90deg,#43809d,#538ba5,#6195ad,#6f9eb4,#7ba6bb,#86adc0,#90b4c5,#98b9c9,#9fbecd,#a6c3d1,#abc7d3,#b0cad6,#b5cdd8,#b9d0db,#bdd2dd,#c0d5de,#c3d7e0,#c6d9e2,#c9dbe3,#cbdce4,#cedee5,#d0dfe6,#d1e0e7,#d2e1e8,#d3e2e8,#d4e2e9,#d4e2e9,#d4e2e9,#d3e1e8,#d2e1e8,#d1e0e7,#cfdfe6,#cddde5,#cbdce4,#c8dae2,#c5d8e1,#c2d6df,#bed3dd,#bad0db,#b5cdd8,#afc9d5,#a8c5d2,#a1bfce,#98b9c9,#8db2c4,#81aabd,#72a0b6,#6295ad,#518aa5)"><b style="background:linear-gradient(90deg,#417f9c,#5189a4,#5f93ac,#6d9cb3,#79a5b9,#84acbf,#8db2c4,#95b7c8,#9cbccc,#a2c0cf,#a8c4d2,#adc8d4,#b2cbd7,#b6ced9,#b9d0db,#bdd2dd,#c0d4de,#c3d6e0,#c5d8e1,#c8dae2,#cadbe3,#cbdce4,#cddde5,#cedee6,#cfdee6,#cfdfe6,#cfdfe6,#cfdfe6,#cfdee6,#cedee5,#ccdde5,#cbdce4,#c9dae3,#c7d9e2,#c4d7e0,#c1d5df,#bed3dd,#bad0db,#b6cdd9,#b1cad6,#abc6d3,#a5c2d0,#9dbdcc,#94b7c8,#8ab0c2,#7ea8bc,#6f9eb4,#5f93ac,#4f88a4)"></b></i>
<i style="background:linear-gradient(90deg,#417f9c,#5189a4,#5f93ac,#6d9cb3,#79a5b9,#84acbf,#8db2c4,#95b7c8,#9cbccc,#a2c0cf,#a8c4d2,#adc8d4,#b2cbd7,#b6ced9,#b9d0db,#bdd2dd,#c0d4de,#c3d6e0,#c5d8e1,#c8dae2,#cadbe3,#cbdce4,#cddde5,#cedee6,#cfdee6,#cfdfe6,#cfdfe6,#cfdfe6,#cfdee6,#cedee5,#ccdde5,#cbdce4,#c9dae3,#c7d9e2,#c4d7e0,#c1d5df,#bed3dd,#bad0db,#b6cdd9,#b1cad6,#abc6d3,#a5c2d0,#9dbdcc,#94b7c8,#8ab0c2,#7ea8bc,#6f9eb4,#5f93ac,#4f88a4)"><b style="background:linear-gradient(90deg,#3f7e9b,#4f88a3,#5d92ab,#6b9bb2,#76a3b8,#81aabd,#8ab0c2,#92b5c6,#99baca,#9fbecd,#a5c2d0,#aac5d3,#aec8d5,#b2cbd7,#b6ced9,#b9d0db,#bcd2dc,#bfd4de,#c2d5df,#c4d7e0,#c6d8e1,#c7d9e2,#c9dae3,#cadbe3,#cadbe4,#cbdce4,#cbdce4,#cbdce4,#cadbe3,#c9dbe3,#c8dae2,#c6d9e1,#c4d7e1,#c2d6df,#c0d4de,#bdd2dc,#b9d0db,#b6cdd9,#b1cbd7,#adc7d4,#a7c4d1,#a1c0ce,#9abbca,#91b5c6,#87aec0,#7ba6ba,#6d9cb3,#5d92ab,#4d87a2)"></b></i>
<i style="background:linear-gradient(90deg,#3f7e9b,#4f88a3,#5d92ab,#6b9bb2,#76a3b8,#81aabd,#8ab0c2,#92b5c6,#99baca,#9fbecd,#a5c2d0,#aac5d3,#aec8d5,#b2cbd7,#b6ced9,#b9d0db,#bcd2dc,#bfd4de,#c2d5df,#c4d7e0,#c6d8e1,#c7d9e2,#c9dae3,#cadbe3,#cadbe4,#cbdce4,#cbdce4,#cbdce4,#cadbe3,#c9dbe3,#c8dae2,#c6d9e1,#c4d7e1,#c2d6df,#c0d4de,#bdd2dc,#b9d0db,#b6cdd9,#b1cbd7,#adc7d4,#a7c4d1,#a1c0ce,#9abbca,#91b5c6,#87aec0,#7ba6ba,#6d9cb3,#5d92ab,#4d87a2)"><b style="background:linear-gradient(90deg,#3e7c9a,#4c86a2,#5b90aa,#6899b1,#74a1b7,#7ea8bc,#87aec1,#8fb3c5,#96b8c8,#9cbccb,#a1c0ce,#a6c3d1,#abc6d3,#afc9d5,#b3cbd7,#b6ced9,#b9d0db,#bbd1dc,#bed3dd,#c0d4de,#c2d6df,#c3d7e0,#c4d7e0,#c5d8e1,#c6d8e1,#c6d9e1,#c6d9e2,#c6d9e1,#c5d8e1,#c5d8e1,#c3d7e0,#c2d6df,#c0d4de,#bed3dd,#bbd1dc,#b8cfda,#b5cdd9,#b1cbd7,#adc8d4,#a9c5d2,#a3c1cf,#9dbdcc,#96b8c8,#8db2c4,#83acbf,#78a4b9,#6a9ab1,#5a90a9,#4b85a1)"></b></i>
<i style="background:linear-gradient(90deg,#3e7c9a,#4c86a2,#5b90aa,#6899b1,#74a1b7,#7ea8bc,#87aec1,#8fb3c5,#96b8c8,#9cbccb,#a1c0ce,#a6c3d1,#abc6d3,#afc9d5,#b3cbd7,#b6ced9,#b9d0db,#bbd1dc,#bed3dd,#c0d4de,#c2d6df,#c3d7e0,#c4d7e0,#c5d8e1,#c6d8e1,#c6d9e1,#c6d9e2,#c6d9e1,#c5d8e1,#c5d8e1,#c3d7e0,#c2d6df,#c0d4de,#bed3dd,#bbd1dc,#b8cfda,#b5cdd9,#b1cbd7,#adc8d4,#a9c5d2,#a3c1cf,#9dbdcc,#96b8c8,#8db2c4,#83acbf,#78a4b9,#6a9ab1,#5a90a9,#4b85a1)"><b style="background:linear-gradient(90deg,#3c7b99,#4a85a1,#598fa9,#6698af,#719fb5,#7ba6ba,#84acbf,#8cb1c3,#92b6c6,#98baca,#9ebdcc,#a3c1cf,#a7c4d1,#abc7d4,#afc9d5,#b2cbd7,#b5cdd9,#b8cfda,#bad1db,#bcd2dc,#bed3dd,#bfd4de,#c0d5de,#c1d5df,#c2d6df,#c2d6df,#c2d6df,#c2d6df,#c1d5df,#c0d5de,#bfd4de,#bdd3dd,#bcd1dc,#b9d0db,#b7ced9,#b4ccd8,#b1cad6,#adc8d4,#a9c5d2,#a4c2d0,#9fbecd,#99baca,#92b5c6,#8ab0c2,#80a9bd,#75a2b7,#6798b0,#588ea8,#4984a0)"></b></i>
<i style="background:linear-gradient(90deg,#3c7b99,#4a85a1,#598fa9,#6698af,#719fb5,#7ba6ba,#84acbf,#8cb1c3,#92b6c6,#98baca,#9ebdcc,#a3c1cf,#a7c4d1,#abc7d4,#afc9d5,#b2cbd7,#b5cdd9,#b8cfda,#bad1db,#bcd2dc,#bed3dd,#bfd4de,#c0d5de,#c1d5df,#c2d6df,#c2d6df,#c2d6df,#c2d6df,#c1d5df,#c0d5de,#bfd4de,#bdd3dd,#bcd1dc,#b9d0db,#b7ced9,#b4ccd8,#b1cad6,#adc8d4,#a9c5d2,#a4c2d0,#9fbecd,#99baca,#92b5c6,#8ab0c2,#80a9bd,#75a2b7,#6798b0,#588ea8,#4984a0)"><b style="background:linear-gradient(90deg,#3a7a99,#4884a0,#568da7,#6396ae,#6f9db4,#78a4b9,#81aabd,#88afc1,#8fb3c5,#95b7c8,#9abbcb,#9fbecd,#a4c1d0,#a8c4d2,#acc7d4,#afc9d5,#b2cbd7,#b4cdd8,#b7ced9,#b8cfda,#bad0db,#bbd1dc,#bcd2dc,#bdd2dd,#bdd3dd,#bed3dd,#bed3dd,#bdd3dd,#bdd2dd,#bcd2dc,#bbd1db,#b9d0db,#b7cfda,#b5cdd8,#b2cbd7,#afc9d6,#acc7d4,#a9c5d2,#a5c2d0,#a0bfce,#9bbbcb,#95b7c8,#8eb3c4,#86adc0,#7da7bb,#719fb5,#6497af,#568da7,#46829f)"></b></i>
<i style="background:linear-gradient(90deg,#3a7a99,#4884a0,#568da7,#6396ae,#6f9db4,#78a4b9,#81aabd,#88afc1,#8fb3c5,#95b7c8,#9abbcb,#9fbecd,#a4c1d0,#a8c4d2,#acc7d4,#afc9d5,#b2cbd7,#b4cdd8,#b7ced9,#b8cfda,#bad0db,#bbd1dc,#bcd2dc,#bdd2dd,#bdd3dd,#bed3dd,#bed3dd,#bdd3dd,#bdd2dd,#bcd2dc,#bbd1db,#b9d0db,#b7cfda,#b5cdd8,#b2cbd7,#afc9d6,#acc7d4,#a9c5d2,#a5c2d0,#a0bfce,#9bbbcb,#95b7c8,#8eb3c4,#86adc0,#7da7bb,#719fb5,#6497af,#568da7,#46829f)"><b style="background:linear-gradient(90deg,#387998,#46829f,#548ca6,#6194ad,#6c9cb2,#75a2b7,#7ea8bc,#85adc0,#8bb1c3,#91b5c6,#97b9c9,#9cbccb,#a0bfce,#a4c2d0,#a8c4d2,#abc7d4,#aec9d5,#b1cad6,#b3ccd7,#b5cdd8,#b6ced9,#b7cfda,#b8cfda,#b9d0da,#b9d0db,#b9d0db,#b9d0db,#b9d0db,#b8cfda,#b8cfda,#b6ced9,#b5cdd8,#b3ccd7,#b1cad6,#aec8d5,#abc6d3,#a8c4d2,#a4c2d0,#a0bfce,#9cbccb,#96b8c9,#91b5c6,#8ab0c2,#82abbe,#79a5b9,#6e9db4,#6195ad,#538ba6,#44819e)"></b></i>
<i style="background:linear-gradient(90deg,#387998,#46829f,#548ca6,#6194ad,#6c9cb2,#75a2b7,#7ea8bc,#85adc0,#8bb1c3,#91b5c6,#97b9c9,#9cbccb,#a0bfce,#a4c2d0,#a8c4d2,#abc7d4,#aec9d5,#b1cad6,#b3ccd7,#b5cdd8,#b6ced9,#b7cfda,#b8cfda,#b9d0da,#b9d0db,#b9d0db,#b9d0db,#b9d0db,#b8cfda,#b8cfda,#b6ced9,#b5cdd8,#b3ccd7,#b1cad6,#aec8d5,#abc6d3,#a8c4d2,#a4c2d0,#a0bfce,#9cbccb,#96b8c9,#91b5c6,#8ab0c2,#82abbe,#79a5b9,#6e9db4,#6195ad,#538ba6,#44819e)"><b style="background:linear-gradient(90deg,#367897,#44819e,#528aa5,#5e93ab,#699ab1,#72a0b6,#7aa5ba,#81aabe,#88afc1,#8eb3c4,#93b6c7,#98b9c9,#9dbdcc,#a1bfce,#a4c2d0,#a8c4d2,#abc6d3,#adc8d5,#afc9d6,#b1cad6,#b2cbd7,#b3ccd8,#b4cdd8,#b5cdd8,#b5cdd8,#b5cdd9,#b5cdd9,#b5cdd8,#b4cdd8,#b3ccd8,#b2cbd7,#b0cad6,#aec9d5,#acc7d4,#aac5d3,#a7c3d1,#a3c1cf,#a0bfcd,#9cbccb,#97b9c9,#92b5c6,#8cb2c3,#86adc0,#7ea8bc,#76a2b8,#6b9bb2,#5f93ac,#5189a4,#42809d)"></b></i>
<i style="background:linear-gradient(90deg,#367897,#44819e,#528aa5,#5e93ab,#699ab1,#72a0b6,#7aa5ba,#81aabe,#88afc1,#8eb3c4,#93b6c7,#98b9c9,#9dbdcc,#a1bfce,#a4c2d0,#a8c4d2,#abc6d3,#adc8d5,#afc9d6,#b1cad6,#b2cbd7,#b3ccd8,#b4cdd8,#b5cdd8,#b5cdd8,#b5cdd9,#b5cdd9,#b5cdd8,#b4cdd8,#b3ccd8,#b2cbd7,#b0cad6,#aec9d5,#acc7d4,#aac5d3,#a7c3d1,#a3c1cf,#a0bfcd,#9cbccb,#97b9c9,#92b5c6,#8cb2c3,#86adc0,#7ea8bc,#76a2b8,#6b9bb2,#5f93ac,#5189a4,#42809d)"><b style="background:linear-gradient(90deg,#357696,#42809d,#5089a4,#5c91aa,#6698b0,#6f9eb4,#77a3b8,#7ea8bc,#84acbf,#8ab0c2,#8fb4c5,#94b7c7,#99baca,#9dbdcc,#a1bfce,#a4c2d0,#a7c4d1,#aac5d3,#acc7d4,#adc8d5,#afc9d5,#b0c9d6,#b0cad6,#b1cad6,#b1cad6,#b1cad6,#b1cad6,#b1cad6,#b0cad6,#afc9d5,#aec8d5,#acc7d4,#aac6d3,#a8c4d2,#a5c2d0,#a2c0cf,#9fbecd,#9bbccb,#97b9c9,#93b6c7,#8eb2c4,#88afc1,#82abbe,#7ba6ba,#72a0b6,#6899b1,#5c91aa,#4f88a3,#417e9c)"></b></i>
<i style="background:linear-gradient(90deg,#357696,#42809d,#5089a4,#5c91aa,#6698b0,#6f9eb4,#77a3b8,#7ea8bc,#84acbf,#8ab0c2,#8fb4c5,#94b7c7,#99baca,#9dbdcc,#a1bfce,#a4c2d0,#a7c4d1,#aac5d3,#acc7d4,#adc8d5,#afc9d5,#b0c9d6,#b0cad6,#b1cad6,#b1cad6,#b1cad6,#b1cad6,#b1cad6,#b0cad6,#afc9d5,#aec8d5,#acc7d4,#aac6d3,#a8c4d2,#a5c2d0,#a2c0cf,#9fbecd,#9bbccb,#97b9c9,#93b6c7,#8eb2c4,#88afc1,#82abbe,#7ba6ba,#72a0b6,#6899b1,#5c91aa,#4f88a3,#417e9c)"><b style="background:linear-gradient(90deg,#337595,#417e9c,#4d87a3,#598fa9,#6396ae,#6c9cb3,#74a1b6,#7aa5ba,#80aabd,#86adc0,#8bb1c3,#90b4c5,#95b7c8,#99baca,#9dbdcc,#a1bfce,#a4c1cf,#a6c3d1,#a8c4d2,#aac5d3,#abc6d3,#acc7d4,#acc7d4,#adc7d4,#adc7d4,#adc8d4,#adc8d4,#adc7d4,#acc7d4,#abc6d3,#aac5d3,#a8c4d2,#a6c3d1,#a4c1cf,#a1bfce,#9ebdcc,#9abbcb,#97b9c9,#93b6c7,#8eb3c4,#89afc2,#84acbf,#7ea8bc,#77a3b8,#6f9eb4,#6597af,#5a8fa9,#4d87a2,#3f7d9b)"></b></i>
<i style="background:linear-gradient(90deg,#337595,#417e9c,#4d87a3,#598fa9,#6396ae,#6c9cb3,#74a1b6,#7aa5ba,#80aabd,#86adc0,#8bb1c3,#90b4c5,#95b7c8,#99baca,#9dbdcc,#a1bfce,#a4c1cf,#a6c3d1,#a8c4d2,#aac5d3,#abc6d3,#acc7d4,#acc7d4,#adc7d4,#adc7d4,#adc8d4,#adc8d4,#adc7d4,#acc7d4,#abc6d3,#aac5d3,#a8c4d2,#a6c3d1,#a4c1cf,#a1bfce,#9ebdcc,#9abbcb,#97b9c9,#93b6c7,#8eb3c4,#89afc2,#84acbf,#7ea8bc,#77a3b8,#6f9eb4,#6597af,#5a8fa9,#4d87a2,#3f7d9b)"><b style="background:linear-gradient(90deg,#327494,#3f7d9b,#4b86a1,#568da7,#6094ac,#699ab1,#709fb5,#77a3b8,#7da7bb,#82abbe,#87aec1,#8cb2c3,#91b5c6,#95b8c8,#99baca,#9dbdcc,#a0bfce,#a2c0cf,#a4c2d0,#a6c3d1,#a7c4d1,#a8c4d2,#a9c5d2,#a9c5d2,#a9c5d2,#a9c5d2,#a9c5d2,#a9c5d2,#a8c4d2,#a7c4d1,#a6c3d1,#a4c1d0,#a2c0cf,#9fbecd,#9dbdcc,#99baca,#96b8c8,#92b6c6,#8eb3c4,#8ab0c2,#85acbf,#7fa9bd,#79a5ba,#73a0b6,#6b9bb2,#6295ad,#578ea8,#4b85a1,#3e7c9a)"></b></i>
<i style="background:linear-gradient(90deg,#327494,#3f7d9b,#4b86a1,#568da7,#6094ac,#699ab1,#709fb5,#77a3b8,#7da7bb,#82abbe,#87aec1,#8cb2c3,#91b5c6,#95b8c8,#99baca,#9dbdcc,#a0bfce,#a2c0cf,#a4c2d0,#a6c3d1,#a7c4d1,#a8c4d2,#a9c5d2,#a9c5d2,#a9c5d2,#a9c5d2,#a9c5d2,#a9c5d2,#a8c4d2,#a7c4d1,#a6c3d1,#a4c1d0,#a2c0cf,#9fbecd,#9dbdcc,#99baca,#96b8c8,#92b6c6,#8eb3c4,#8ab0c2,#85acbf,#7fa9bd,#79a5ba,#73a0b6,#6b9bb2,#6295ad,#578ea8,#4b85a1,#3e7c9a)"><b style="background:linear-gradient(90deg,#307393,#3d7c9a,#4984a0,#548ba6,#5d92ab,#6597af,#6d9cb3,#73a0b6,#79a4b9,#7ea8bc,#83acbf,#88afc1,#8db2c4,#91b5c6,#95b8c8,#99baca,#9cbccc,#9ebecd,#a0bfce,#a2c0cf,#a4c1cf,#a4c2d0,#a5c2d0,#a5c2d0,#a5c2d0,#a5c2d0,#a5c2d0,#a5c2d0,#a4c2d0,#a3c1cf,#a2c0ce,#a0bfcd,#9ebdcc,#9bbccb,#98baca,#95b8c8,#92b5c6,#8eb3c4,#8ab0c2,#85adc0,#80a9bd,#7ba6ba,#75a2b7,#6f9eb4,#6899b0,#5f93ac,#558ca6,#4984a0,#3c7b9a)"></b></i>
<i style="background:linear-gradient(90deg,#307393,#3d7c9a,#4984a0,#548ba6,#5d92ab,#6597af,#6d9cb3,#73a0b6,#79a4b9,#7ea8bc,#83acbf,#88afc1,#8db2c4,#91b5c6,#95b8c8,#99baca,#9cbccc,#9ebecd,#a0bfce,#a2c0cf,#a4c1cf,#a4c2d0,#a5c2d0,#a5c2d0,#a5c2d0,#a5c2d0,#a5c2d0,#a5c2d0,#a4c2d0,#a3c1cf,#a2c0ce,#a0bfcd,#9ebdcc,#9bbccb,#98baca,#95b8c8,#92b5c6,#8eb3c4,#8ab0c2,#85adc0,#80a9bd,#7ba6ba,#75a2b7,#6f9eb4,#6899b0,#5f93ac,#558ca6,#4984a0,#3c7b9a)"><b style="background:linear-gradient(90deg,#2e7292,#3b7b99,#47839f,#518aa5,#5a90a9,#6295ad,#699ab1,#6f9eb4,#75a2b7,#7aa5ba,#7fa9bd,#84acbf,#89afc2,#8db2c4,#91b5c6,#95b7c8,#98b9c9,#9abbcb,#9dbdcc,#9ebecd,#a0bfcd,#a1bfce,#a1c0ce,#a2c0ce,#a2c0ce,#a2c0ce,#a2c0ce,#a1c0ce,#a1bfce,#9fbecd,#9ebdcc,#9cbccb,#99baca,#97b9c9,#94b7c7,#91b5c6,#8db2c4,#89b0c2,#85adc0,#81aabd,#7ca6bb,#77a3b8,#719fb5,#6b9bb2,#6496ae,#5c91aa,#528ba5,#47839f,#3b7a99)"></b></i>
<i style="background:linear-gradient(90deg,#2e7292,#3b7b99,#47839f,#518aa5,#5a90a9,#6295ad,#699ab1,#6f9eb4,#75a2b7,#7aa5ba,#7fa9bd,#84acbf,#89afc2,#8db2c4,#91b5c6,#95b7c8,#98b9c9,#9abbcb,#9dbdcc,#9ebecd,#a0bfcd,#a1bfce,#a1c0ce,#a2c0ce,#a2c0ce,#a2c0ce,#a2c0ce,#a1c0ce,#a1bfce,#9fbecd,#9ebdcc,#9cbccb,#99baca,#97b9c9,#94b7c7,#91b5c6,#8db2c4,#89b0c2,#85adc0,#81aabd,#7ca6bb,#77a3b8,#719fb5,#6b9bb2,#6496ae,#5c91aa,#528ba5,#47839f,#3b7a99)"><b style="background:linear-gradient(90deg,#2d7192,#397998,#44819e,#4e88a3,#578ea8,#5f93ac,#6697af,#6c9cb2,#719fb5,#76a3b8,#7ba6bb,#80a9bd,#85adbf,#89b0c2,#8db2c4,#91b5c6,#94b7c7,#96b8c9,#98baca,#9abbcb,#9cbccb,#9dbdcc,#9ebdcc,#9ebecd,#9ebecd,#9ebecd,#9ebecd,#9ebdcc,#9dbdcc,#9bbccb,#9abbca,#98b9c9,#95b8c8,#93b6c7,#90b4c5,#8db2c4,#89afc2,#85adc0,#81aabd,#7ca7bb,#78a4b9,#72a0b6,#6d9cb3,#6798b0,#6094ad,#598fa9,#5089a4,#45829f,#3a7a98)"></b></i>
<i style="background:linear-gradient(90deg,#2d7192,#397998,#44819e,#4e88a3,#578ea8,#5f93ac,#6697af,#6c9cb2,#719fb5,#76a3b8,#7ba6bb,#80a9bd,#85adbf,#89b0c2,#8db2c4,#91b5c6,#94b7c7,#96b8c9,#98baca,#9abbcb,#9cbccb,#9dbdcc,#9ebdcc,#9ebecd,#9ebecd,#9ebecd,#9ebecd,#9ebdcc,#9dbdcc,#9bbccb,#9abbca,#98b9c9,#95b8c8,#93b6c7,#90b4c5,#8db2c4,#89afc2,#85adc0,#81aabd,#7ca7bb,#78a4b9,#72a0b6,#6d9cb3,#6798b0,#6094ad,#598fa9,#5089a4,#45829f,#3a7a98)"><b style="background:linear-gradient(90deg,#2b7091,#377897,#427f9d,#4b86a2,#548ca6,#5b91aa,#6295ad,#6899b1,#6e9db3,#73a0b6,#77a3b8,#7ca7bb,#81aabd,#85adc0,#89afc2,#8cb2c3,#8fb4c5,#92b5c6,#94b7c7,#96b8c8,#98b9c9,#99baca,#9abbcb,#9bbbcb,#9bbbcb,#9bbccb,#9bbbcb,#9abbcb,#99baca,#98b9c9,#96b8c8,#94b7c7,#91b5c6,#8fb3c5,#8cb1c3,#89afc1,#85adc0,#81aabe,#7da7bb,#78a4b9,#74a1b7,#6e9db4,#699ab1,#6396ae,#5d92ab,#568da7,#4e87a3,#44819e,#397998)"></b></i>
<i style="background:linear-gradient(90deg,#2b7091,#377897,#427f9d,#4b86a2,#548ca6,#5b91aa,#6295ad,#6899b1,#6e9db3,#73a0b6,#77a3b8,#7ca7bb,#81aabd,#85adc0,#89afc2,#8cb2c3,#8fb4c5,#92b5c6,#94b7c7,#96b8c8,#98b9c9,#99baca,#9abbcb,#9bbbcb,#9bbbcb,#9bbccb,#9bbbcb,#9abbcb,#99baca,#98b9c9,#96b8c8,#94b7c7,#91b5c6,#8fb3c5,#8cb1c3,#89afc1,#85adc0,#81aabe,#7da7bb,#78a4b9,#74a1b7,#6e9db4,#699ab1,#6396ae,#5d92ab,#568da7,#4e87a3,#44819e,#397998)"><b style="background:linear-gradient(90deg,#296f90,#357696,#3f7d9b,#4884a0,#5189a4,#588ea8,#5f93ac,#6597af,#6a9bb2,#6f9eb4,#74a1b6,#78a4b9,#7ca7bb,#80aabd,#84acbf,#88aec1,#8bb0c2,#8db2c4,#8fb4c5,#92b5c6,#93b6c7,#95b8c8,#96b8c9,#97b9c9,#97b9c9,#98b9c9,#97b9c9,#96b8c9,#95b8c8,#94b7c7,#92b5c6,#90b4c5,#8db2c4,#8bb0c3,#88afc1,#85acbf,#81aabe,#7da7bc,#79a5b9,#75a2b7,#709eb5,#6b9bb2,#6597af,#6093ac,#598fa9,#538ba5,#4b85a1,#427f9c,#377897)"></b></i>
<i style="background:linear-gradient(90deg,#296f90,#357696,#3f7d9b,#4884a0,#5189a4,#588ea8,#5f93ac,#6597af,#6a9bb2,#6f9eb4,#74a1b6,#78a4b9,#7ca7bb,#80aabd,#84acbf,#88aec1,#8bb0c2,#8db2c4,#8fb4c5,#92b5c6,#93b6c7,#95b8c8,#96b8c9,#97b9c9,#97b9c9,#98b9c9,#97b9c9,#96b8c9,#95b8c8,#94b7c7,#92b5c6,#90b4c5,#8db2c4,#8bb0c3,#88afc1,#85acbf,#81aabe,#7da7bc,#79a5b9,#75a2b7,#709eb5,#6b9bb2,#6597af,#6093ac,#598fa9,#538ba5,#4b85a1,#427f9c,#377897)"><b style="background:linear-gradient(90deg,#276d8f,#327594,#3c7b9a,#45829e,#4e87a3,#558ca7,#5c91aa,#6295ad,#6798b0,#6b9bb2,#709eb5,#74a1b7,#78a4b9,#7ca6bb,#80a9bd,#83abbe,#86adc0,#88afc1,#8bb1c3,#8db2c4,#8fb3c5,#91b5c6,#92b6c7,#93b6c7,#94b7c7,#94b7c7,#94b7c7,#93b6c7,#91b5c6,#90b4c5,#8eb3c4,#8cb1c3,#89b0c2,#87aec0,#84acbf,#81aabd,#7da7bc,#7aa5ba,#76a2b8,#719fb5,#6c9cb3,#6799b0,#6295ad,#5c91aa,#568da7,#5089a4,#4884a0,#3f7d9b,#357696)"></b></i>
<i style="background:linear-gradient(90deg,#276d8f,#327594,#3c7b9a,#45829e,#4e87a3,#558ca7,#5c91aa,#6295ad,#6798b0,#6b9bb2,#709eb5,#74a1b7,#78a4b9,#7ca6bb,#80a9bd,#83abbe,#86adc0,#88afc1,#8bb1c3,#8db2c4,#8fb3c5,#91b5c6,#92b6c7,#93b6c7,#94b7c7,#94b7c7,#94b7c7,#93b6c7,#91b5c6,#90b4c5,#8eb3c4,#8cb1c3,#89b0c2,#87aec0,#84acbf,#81aabd,#7da7bc,#7aa5ba,#76a2b8,#719fb5,#6c9cb3,#6799b0,#6295ad,#5c91aa,#568da7,#5089a4,#4884a0,#3f7d9b,#357696)"><b style="background:linear-gradient(90deg,#256c8d,#2f7393,#397a98,#42809d,#4a85a1,#528aa5,#598fa9,#5f93ac,#6396ae,#6899b0,#6c9cb3,#709eb5,#74a1b7,#77a3b8,#7ba6ba,#7ea8bc,#81aabd,#84acbf,#86adc0,#88afc1,#8bb0c3,#8db2c4,#8eb3c4,#90b4c5,#90b4c6,#90b4c6,#90b4c5,#8fb3c5,#8eb2c4,#8cb1c3,#8ab0c2,#88aec1,#85adc0,#83abbe,#80a9bd,#7da7bb,#7aa5ba,#76a3b8,#72a0b6,#6e9db3,#699ab1,#6496ae,#5e93ab,#598fa9,#538ba5,#4d87a2,#45829e,#3c7c9a,#327595)"></b></i>
<i style="background:linear-gradient(90deg,#256c8d,#2f7393,#397a98,#42809d,#4a85a1,#528aa5,#598fa9,#5f93ac,#6396ae,#6899b0,#6c9cb3,#709eb5,#74a1b7,#77a3b8,#7ba6ba,#7ea8bc,#81aabd,#84acbf,#86adc0,#88afc1,#8bb0c3,#8db2c4,#8eb3c4,#90b4c5,#90b4c6,#90b4c6,#90b4c5,#8fb3c5,#8eb2c4,#8cb1c3,#8ab0c2,#88aec1,#85adc0,#83abbe,#80a9bd,#7da7bb,#7aa5ba,#76a3b8,#72a0b6,#6e9db3,#699ab1,#6496ae,#5e93ab,#598fa9,#538ba5,#4d87a2,#45829e,#3c7c9a,#327595)"><b style="background:linear-gradient(90deg,#226a8c,#2d7192,#367897,#3f7d9b,#47839f,#4f88a3,#568da7,#5b90aa,#6094ac,#6497af,#6899b1,#6c9cb3,#709eb4,#73a0b6,#76a3b8,#79a5b9,#7ca7bb,#7fa9bc,#82aabe,#84acbf,#86aec0,#89afc1,#8ab0c2,#8cb1c3,#8db2c4,#8db2c4,#8cb2c3,#8bb1c3,#8ab0c2,#88afc1,#86adc0,#84acbf,#81aabe,#7fa9bc,#7ca7bb,#79a5b9,#76a3b8,#72a0b6,#6f9eb4,#6a9bb2,#6597af,#6094ad,#5b90aa,#568da7,#5089a4,#4a85a1,#43809d,#3a7a98,#307393)"></b></i>
<i style="background:linear-gradient(90deg,#226a8c,#2d7192,#367897,#3f7d9b,#47839f,#4f88a3,#568da7,#5b90aa,#6094ac,#6497af,#6899b1,#6c9cb3,#709eb4,#73a0b6,#76a3b8,#79a5b9,#7ca7bb,#7fa9bc,#82aabe,#84acbf,#86aec0,#89afc1,#8ab0c2,#8cb1c3,#8db2c4,#8db2c4,#8cb2c3,#8bb1c3,#8ab0c2,#88afc1,#86adc0,#84acbf,#81aabe,#7fa9bc,#7ca7bb,#79a5b9,#76a3b8,#72a0b6,#6f9eb4,#6a9bb2,#6597af,#6094ad,#5b90aa,#568da7,#5089a4,#4a85a1,#43809d,#3a7a98,#307393)"><b style="background:linear-gradient(90deg,#20688b,#2a6f90,#337695,#3c7b9a,#44819e,#4b86a2,#528aa5,#588ea8,#5c91aa,#6194ad,#6597af,#6899b1,#6c9bb2,#6f9eb4,#72a0b6,#75a2b7,#78a4b9,#7aa6ba,#7da7bb,#80a9bd,#82abbe,#84acbf,#86aec0,#88afc1,#89afc2,#89afc2,#88afc1,#87aec1,#86adc0,#84acbf,#82abbe,#80a9bd,#7ea8bc,#7ba6ba,#79a4b9,#76a2b8,#72a0b6,#6f9eb4,#6b9bb2,#6798b0,#6295ad,#5d92ab,#588ea8,#528aa5,#4d87a2,#47839f,#407e9b,#377897,#2d7192)"></b></i>
</div>
<!--/BG-->
<div id="titlebar"></div>
<div id="t1" class="abs ttl" style="left:141.79px;top:42.2px;font-size:66.17px;transform:scaleX(1.0839);">Exportaciones</div>
<div id="t2" class="abs ttl" style="left:692.47px;top:42.2px;font-size:66.17px;transform:scaleX(1.0957);">de</div>
<div id="t3" class="abs ttl" style="left:802.67px;top:42.2px;font-size:66.17px;transform:scaleX(1.1091);">carnes</div>
<div id="t4" class="abs ttl" style="left:1076.2px;top:42.2px;font-size:66.17px;transform:scaleX(1.0471);">bovinas</div>

<div id="sub1a" class="abs sub" style="left:256.95px;top:172px;font-size:45px;transform:scaleX(0.9012);">SETIEMBRE</div>
<div id="sub1b" class="abs sub" style="left:508.62px;top:172px;font-size:45px;transform:scaleX(0.9808);">2025</div>
<div id="sub2a" class="abs sub" style="left:813.36px;top:182.6px;font-size:45px;transform:scaleX(0.9214);">ENERO</div>
<div id="sub2b" class="abs sub" style="left:970.74px;top:182.6px;font-size:45px;transform:scaleX(1.0335);">–</div>
<div id="sub2c" class="abs sub" style="left:1003.86px;top:182.6px;font-size:45px;transform:scaleX(0.8997);">SETIEMBRE</div>
<div id="sub2d" class="abs sub" style="left:1263.78px;top:182.6px;font-size:45px;transform:scaleX(0.9818);">2025</div>

<!-- LOGO -->
<svg id="logo" style="position:absolute;left:655px;top:135px;" width="155" height="92" viewBox="655 135 155 92">
  <rect x="660.7" y="139.8" width="143.8" height="81.6" fill="#fff" stroke="#000" stroke-width="3"/>
  <g fill="none" stroke="#000" stroke-width="0.6" stroke-linecap="round" stroke-linejoin="round">
    <path d="M665.5 182.7 C665.6 180.3 665.7 172.2 666.1 168.3 C666.5 164.4 666.8 162.0 667.8 159.4 C668.7 156.8 670.1 154.3 671.6 152.8 C673.2 151.2 675.3 150.6 677.2 150.0 C679.0 149.4 680.3 149.2 682.7 149.2 C685.1 149.2 689.1 149.8 691.6 150.0 C694.1 150.2 696.7 150.4 697.7 150.5"/>
    <path d="M705.5 151.6 C708.2 151.7 716.7 151.9 721.6 151.9 C726.5 151.9 731.6 151.8 734.9 151.6 C738.1 151.5 739.0 151.5 741.1 151.1 C743.2 150.7 745.5 150.3 747.8 149.4 C750.0 148.5 751.8 146.5 754.4 145.5 C757.0 144.6 760.0 144.2 763.3 143.7 C766.6 143.1 771.2 142.6 774.4 142.2 C777.5 141.8 780.9 141.3 782.1 141.1"/>
    <path d="M666.1 181.6 C665.6 182.5 664.0 184.9 663.3 187.1 C662.7 189.4 662.2 192.7 662.2 194.9 C662.2 197.1 662.8 200.1 663.3 200.5 C663.9 200.8 664.9 199.2 665.5 197.1 C666.2 195.1 667.1 190.8 667.2 188.3 C667.3 185.7 666.3 182.7 666.1 181.6"/>
    <path d="M665.5 197.1 C665.8 198.2 666.7 201.2 667.2 203.8 C667.8 206.4 668.5 210.1 668.9 212.7 C669.2 215.3 669.3 218.2 669.4 219.3"/>
    <path d="M677.2 202.7 C676.9 204.0 675.7 208.0 675.5 210.5 C675.3 212.9 675.5 215.6 676.1 217.1 C676.6 218.6 678.4 219.0 678.9 219.3"/>
    <path d="M678.9 203.8 C678.7 205.3 677.7 210.3 677.7 212.7 C677.8 215.1 679.1 217.3 679.4 218.2"/>
    <path d="M688.3 202.7 C687.6 204.0 685.1 208.0 684.4 210.5 C683.7 212.9 683.4 215.5 683.8 217.1 C684.3 218.7 686.6 219.4 687.2 219.9"/>
    <path d="M694.9 194.9 C696.2 195.0 700.1 194.8 702.7 195.5 C705.3 196.2 708.1 198.9 710.5 199.1 C712.9 199.4 714.5 197.7 717.1 197.1 C719.7 196.6 723.1 196.0 726.0 195.8 C729.0 195.6 732.6 196.0 734.9 196.0 C737.2 196.1 738.3 195.9 740.0 196.2 C741.7 196.6 743.8 197.4 745.0 198.2 C746.2 199.1 746.7 199.5 747.2 201.6 C747.7 203.6 747.8 207.9 747.8 210.5 C747.8 213.0 747.1 215.5 747.2 217.1 C747.3 218.7 748.1 219.4 748.3 219.9"/>
    <path d="M752.7 219.9 C752.7 219.0 752.0 216.4 752.2 214.9 C752.4 213.4 753.2 211.4 753.9 211.0 C754.5 210.6 755.6 211.5 756.1 212.7 C756.5 213.9 756.4 217.0 756.6 218.2 C756.9 219.4 757.6 219.6 757.7 219.9"/>
    <path d="M801.6 161.4 C800.6 161.6 797.6 161.9 795.5 162.7 C793.3 163.6 791.0 165.5 788.8 166.6 C786.6 167.7 784.0 168.2 782.1 169.4 C780.3 170.6 778.9 171.8 777.7 173.8 C776.5 175.9 775.8 178.8 774.9 181.6 C774.1 184.4 773.7 187.7 772.7 190.5 C771.7 193.3 770.4 196.3 768.8 198.2 C767.3 200.2 764.6 200.6 763.3 202.1 C762.0 203.6 761.3 205.0 761.1 207.1 C760.8 209.2 761.1 212.8 761.6 214.9 C762.2 217.0 763.9 219.0 764.4 219.9"/>
    <path d="M783.8 141.7 C784.0 141.9 784.3 143.1 784.9 143.3 C785.6 143.5 787.1 143.3 787.7 143.0 C788.3 142.7 788.6 141.7 788.8 141.4"/>
    <path d="M790.5 141.7 C791.0 142.1 792.6 143.4 793.8 144.4 C795.0 145.4 796.5 146.8 797.7 147.8 C798.9 148.7 800.5 149.9 801.0 150.3"/>
    <path d="M675.5 157.2 C676.1 157.1 677.7 156.5 678.9 156.6 C680.1 156.7 682.1 157.6 682.7 157.7"/>
    <path d="M680.0 157.2 C680.0 157.7 680.6 159.3 680.3 160.0 C680.0 160.7 678.6 161.2 678.3 161.4"/>
  </g>
  <polyline fill="none" stroke="#0a0a0a" stroke-width="3.5" stroke-linejoin="miter" stroke-miterlimit="3" points="661.9,208.8 678.3,187.7 688.8,202.7 697.7,181.0 703.3,188.0 710.1,178.8 717.9,184.7 730.5,158.9 740.2,196.6 750.0,163.3 766.1,178.8 776.6,151.6 784.9,158.9 802.1,141.7"/>
</svg>
<div id="logocap" class="abs" style="left:679.66px;top:231.34px;font-size:8.44px;transform:scaleX(1.0967);">INFORME GANADERO</div>

<!-- LEFT COLUMN -->
<div class="box l" style="top:250.2px;height:72.7px;"><i class="hl"></i><i class="hr"></i></div>
<div class="box l" style="top:326.9px;height:74.1px;"><i class="hl"></i><i class="hr"></i></div>
<div class="box l" style="top:403.9px;height:74.1px;"><i class="hl"></i><i class="hr"></i></div>
<div class="box l" style="top:481px;height:74px;"><i class="hl"></i><i class="hr"></i></div>
<div class="box l" style="top:559px;height:73px;"><i class="hl"></i><i class="hr"></i></div>
<div class="box l" style="top:640.9px;height:72.8px;"><i class="hl"></i><i class="hr"></i></div>

<!-- RIGHT COLUMN -->
<div class="box r" style="top:248px;height:72.9px;"><i class="hl"></i><i class="hr"></i></div>
<div class="box r" style="top:327px;height:74px;"><i class="hl"></i><i class="hr"></i></div>
<div class="box r" style="top:403.9px;height:74.1px;"><i class="hl"></i><i class="hr"></i></div>
<div class="box r" style="top:481px;height:74px;"><i class="hl"></i><i class="hr"></i></div>
<div class="box r" style="top:559px;height:73px;"><i class="hl"></i><i class="hr"></i></div>
<div class="box r p" style="top:636px;height:72.8px;"><i class="hl"></i><i class="hr"></i></div>

<!-- BOX TEXT -->
<div id="l1a" class="abs b" style="left:103.29px;top:267.3px;font-size:34.7px;transform:scaleX(1.0097);">85</div>
<div id="l1b" class="abs b" style="left:149.86px;top:267.3px;font-size:34.7px;transform:scaleX(1.0081);">MIL</div>
<div id="l1c" class="abs b" style="left:217.48px;top:267.3px;font-size:34.7px;transform:scaleX(0.9492);">TONELADAS</div>
<div id="l1d" class="abs b" style="left:429.1px;top:267.3px;font-size:34.7px;transform:scaleX(0.9481);">PESO</div>
<div id="l1e" class="abs b" style="left:528.01px;top:267.3px;font-size:34.7px;transform:scaleX(0.9584);">RES</div>
<div id="l2a" class="abs b" style="left:103.94px;top:345.28px;font-size:34.7px;transform:scaleX(1.0116);">388</div>
<div id="l2b" class="abs b" style="left:169.42px;top:345.28px;font-size:34.7px;transform:scaleX(0.9735);">MILLONES</div>
<div id="l2c" class="abs b" style="left:351.65px;top:345.28px;font-size:34.7px;transform:scaleX(0.9663);">DE</div>
<div id="l2d" class="abs b" style="left:405.9px;top:345.28px;font-size:34.7px;transform:scaleX(0.9954);">US$</div>
<div id="l3a" class="abs b" style="left:103.51px;top:421.78px;font-size:34.7px;transform:scaleX(1.0127);">4543</div>
<div id="l3b" class="abs b" style="left:188.52px;top:421.78px;font-size:34.7px;transform:scaleX(1.0146);">US$/Ton</div>
<div id="l3c" class="abs b" style="left:335.14px;top:421.78px;font-size:34.7px;transform:scaleX(1.0322);">p.res</div>
<div id="r1a" class="abs b" style="left:791.96px;top:264.3px;font-size:34.7px;transform:scaleX(1.0389);">623</div>
<div id="r1b" class="abs b" style="left:866.85px;top:264.3px;font-size:34.7px;transform:scaleX(1.0081);">MIL</div>
<div id="r1c" class="abs b" style="left:934.86px;top:264.3px;font-size:34.7px;transform:scaleX(0.9493);">TONELADAS</div>
<div id="r1d" class="abs b" style="left:1144.99px;top:264.3px;font-size:34.7px;transform:scaleX(0.9569);">PESO</div>
<div id="r1e" class="abs b" style="left:1245.12px;top:264.3px;font-size:34.7px;transform:scaleX(0.9438);">RES</div>
<div id="r2a" class="abs b" style="left:792.34px;top:345.28px;font-size:34.7px;transform:scaleX(1.0234);">2619</div>
<div id="r2b" class="abs b" style="left:878.47px;top:345.28px;font-size:34.7px;transform:scaleX(0.9724);">MILLONES</div>
<div id="r2c" class="abs b" style="left:1060.99px;top:345.28px;font-size:34.7px;transform:scaleX(0.9595);">DE</div>
<div id="r2d" class="abs b" style="left:1114.91px;top:345.28px;font-size:34.7px;transform:scaleX(0.9954);">US$</div>
<div id="r3a" class="abs b" style="left:792.84px;top:421.78px;font-size:34.7px;transform:scaleX(1.0126);">4200</div>
<div id="r3b" class="abs b" style="left:877.96px;top:421.78px;font-size:34.7px;transform:scaleX(1.0146);">US$/Ton</div>
<div id="r3c" class="abs b" style="left:1024px;top:421.78px;font-size:34.7px;transform:scaleX(1.038);">p.res</div>
<div id="l4a" class="abs it" style="left:101.52px;top:501.9px;font-size:29.4px;transform:scaleX(0.9747);">Var.</div>
<div id="l4b" class="abs it" style="left:157.45px;top:501.9px;font-size:29.4px;transform:scaleX(0.991);">Respecto</div>
<div id="l4c" class="abs it" style="left:365.5px;top:501.9px;font-size:29.4px;transform:scaleX(0.9659);">Ton</div>
<div id="l4d" class="abs it" style="left:464.54px;top:501.9px;font-size:29.4px;transform:scaleX(0.9423);">US$</div>
<div id="l4e" class="abs it" style="left:581.98px;top:501.9px;font-size:29.4px;transform:scaleX(1.0097);">US$/ton</div>
<div id="l5a" class="abs it" style="left:102.33px;top:579.16px;font-size:29.4px;transform:scaleX(0.9338);">Ago.</div>
<div id="l5b" class="abs it" style="left:170.95px;top:579.16px;font-size:29.4px;transform:scaleX(0.9679);">2025</div>
<div id="l5c" class="abs it" style="left:360.7px;top:579.16px;font-size:29.4px;transform:scaleX(0.8106);">+</div>
<div id="l5d" class="abs it" style="left:384.02px;top:579.16px;font-size:29.4px;transform:scaleX(0.995);">0%</div>
<div id="l5e" class="abs it" style="left:479.96px;top:579.16px;font-size:29.4px;transform:scaleX(0.9807);">+3%</div>
<div id="l5f" class="abs it" style="left:611.4px;top:579.16px;font-size:29.4px;transform:scaleX(0.9568);">+3 %</div>
<div id="l6a" class="abs it" style="left:100.96px;top:660.88px;font-size:30.8px;transform:scaleX(0.9963);">Set.2024</div>
<div id="l6b" class="abs it" style="left:380.87px;top:660.88px;font-size:30.8px;transform:scaleX(1.1629);">-</div>
<div id="l6c" class="abs it" style="left:399.51px;top:660.88px;font-size:30.8px;transform:scaleX(1.125);">3</div>
<div id="l6d" class="abs it" style="left:425px;top:660.88px;font-size:30.8px;transform:scaleX(0.916);">%</div>
<div id="l6e" class="abs it" style="left:482.46px;top:660.88px;font-size:30.8px;transform:scaleX(0.9921);">+35%</div>
<div id="l6f" class="abs it" style="left:625.53px;top:660.88px;font-size:30.8px;transform:scaleX(0.9921);">+39%</div>
<div id="r4a" class="abs it" style="left:792.06px;top:502.38px;font-size:30.8px;transform:scaleX(0.976);">Var.</div>
<div id="r4b" class="abs it" style="left:850.04px;top:502.38px;font-size:30.8px;transform:scaleX(1.0004);">Respecto</div>
<div id="r4c" class="abs it" style="left:1045.03px;top:502.38px;font-size:30.8px;transform:scaleX(0.9739);">Ton</div>
<div id="r4d" class="abs it" style="left:1161.58px;top:502.38px;font-size:30.8px;transform:scaleX(0.9508);">US$</div>
<div id="r4e" class="abs it" style="left:1266.43px;top:502.38px;font-size:30.8px;transform:scaleX(1.0173);">US$/ton</div>
<div id="r5a" class="abs it" style="left:791.62px;top:578.88px;font-size:30.8px;transform:scaleX(0.9717);">Ene.-Set.</div>
<div id="r5b" class="abs it" style="left:923px;top:578.88px;font-size:30.8px;transform:scaleX(1);">2024</div>
<div id="r5c" class="abs it" style="left:1037.62px;top:578.88px;font-size:30.8px;transform:scaleX(0.9972);">-11 %</div>
<div id="r5d" class="abs it" style="left:1173.57px;top:578.88px;font-size:30.8px;transform:scaleX(0.9875);">+24%</div>
<div id="r5e" class="abs it" style="left:1296.75px;top:578.88px;font-size:30.8px;transform:scaleX(0.9768);">+</div>
<div id="r5f" class="abs it" style="left:1326.88px;top:578.88px;font-size:30.8px;transform:scaleX(1.001);">39%</div>
<div id="r6a" class="abs b" style="left:790.98px;top:656.54px;font-size:28.5px;transform:scaleX(0.9692);">ULTIMOS</div>
<div id="r6b" class="abs b" style="left:919.85px;top:656.54px;font-size:28.5px;transform:scaleX(0.9678);">DOCE</div>
<div id="r6c" class="abs b" style="left:1009.03px;top:656.54px;font-size:28.5px;transform:scaleX(0.9574);">MESES:</div>
<div id="r6d" class="abs b" style="left:1136.96px;top:656.54px;font-size:28.5px;transform:scaleX(1.0263);">858</div>
<div id="r6e" class="abs b" style="left:1192.49px;top:656.54px;font-size:28.5px;transform:scaleX(0.9452);">MIL</div>
<div id="r6f" class="abs b" style="left:1245.85px;top:656.54px;font-size:28.5px;transform:scaleX(0.9468);">TON</div>
<div id="r6g" class="abs b" style="left:1309.87px;top:656.54px;font-size:28.5px;transform:scaleX(0.9555);">P.RES</div>

<div id="foota" class="abs ft" style="left:247.01px;top:765.45px;font-size:32.2px;transform:scaleX(1.0775);">FUENTE:</div>
<div id="footb" class="abs ft" style="left:417.62px;top:765.45px;font-size:32.2px;transform:scaleX(1.0716);">INFORME</div>
<div id="footc" class="abs ft" style="left:601.64px;top:765.45px;font-size:32.2px;transform:scaleX(1.0366);">GANADERO</div>
<div id="footd" class="abs ft" style="left:821.68px;top:765.45px;font-size:32.2px;transform:scaleX(1.0109);">A</div>
<div id="foote" class="abs ft" style="left:859.65px;top:765.45px;font-size:32.2px;transform:scaleX(1.0494);">PARTIR</div>
<div id="footf" class="abs ft" style="left:1005.61px;top:765.45px;font-size:32.2px;transform:scaleX(1.0289);">DE</div>
<div id="footg" class="abs ft" style="left:1066.52px;top:765.45px;font-size:32.2px;transform:scaleX(1.0308);">DATOS</div>
<div id="footh" class="abs ft" style="left:1201.71px;top:765.45px;font-size:32.2px;transform:scaleX(1.0535);">INDEC</div>
</body>
</html>
